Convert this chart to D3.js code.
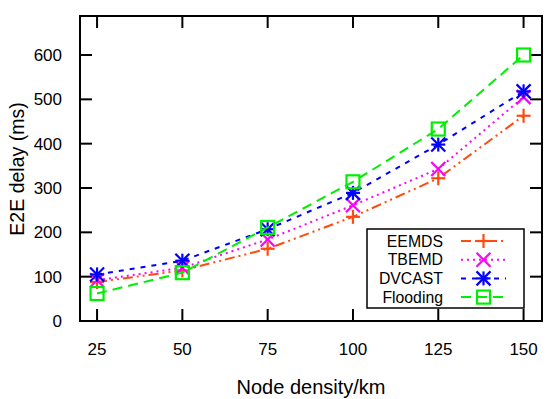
<!DOCTYPE html>
<html><head><meta charset="utf-8">
<script src="https://cdn.jsdelivr.net/npm/d3@7"></script>
<style>body{margin:0;background:#fff}svg{display:block}text{font-family:"Liberation Sans",Arial,Helvetica,sans-serif;fill:#000}</style>
</head><body><svg id="c" width="550" height="399"></svg>
<script>
const nodeDensity = [25, 50, 75, 100, 125, 150];
const eemds    = [88, 114, 163, 235, 322, 463];
const tbemd    = [92, 120, 184, 261, 343, 505];
const dvcast   = [105, 136, 207, 289, 398, 518];
const flooding = [62, 109, 211, 314, 433, 600];
const yTicks = [0, 100, 200, 300, 400, 500, 600];
const seriesNames = ["EEMDS", "TBEMD", "DVCAST", "Flooding"];

const series = [
  {name: seriesNames[0], vals: eemds, color: "#ff4a10", dash: "10,4,2,4,2,4", marker: "plus"},
  {name: seriesNames[1], vals: tbemd, color: "#ff00ff", dash: "2,4", marker: "cross"},
  {name: seriesNames[2], vals: dvcast, color: "#0000ff", dash: "5,6", marker: "star"},
  {name: seriesNames[3], vals: flooding, color: "#00ee00", dash: "10,6", marker: "square"}
];

const L = 80, R = 542, T = 16, B = 321;
const svg = d3.select("#c");
const x = d3.scaleLinear().domain([20, 155.4]).range([L, R]);
const y = d3.scaleLinear().domain([0, 688]).range([B, T]);

const tk = 12;
const g = svg.append("g");
nodeDensity.forEach(v => {
  g.append("line").attr("x1", x(v)).attr("x2", x(v)).attr("y1", B).attr("y2", B - tk).attr("stroke", "#000").attr("stroke-width", 2);
  g.append("line").attr("x1", x(v)).attr("x2", x(v)).attr("y1", T).attr("y2", T + tk).attr("stroke", "#000").attr("stroke-width", 2);
  g.append("text").attr("x", x(v)).attr("y", 355).attr("text-anchor", "middle").style("font-size", "17px").text(v);
});
yTicks.forEach(v => {
  g.append("line").attr("x1", L).attr("x2", L + tk).attr("y1", y(v)).attr("y2", y(v)).attr("stroke", "#000").attr("stroke-width", 2);
  g.append("line").attr("x1", R).attr("x2", R - tk).attr("y1", y(v)).attr("y2", y(v)).attr("stroke", "#000").attr("stroke-width", 2);
  g.append("text").attr("x", 62).attr("y", y(v) + 6).attr("text-anchor", "end").style("font-size", "17px").text(v);
});

function drawMarker(sel, type, cx, cy, color) {
  const s = 7;
  const a = sel.append("g").attr("transform", `translate(${cx},${cy})`).attr("stroke", color).attr("stroke-width", 2.2).attr("fill", "none");
  if (type === "plus") {
    a.append("line").attr("x1", -s).attr("x2", s).attr("y1", 0).attr("y2", 0);
    a.append("line").attr("x1", 0).attr("x2", 0).attr("y1", -s).attr("y2", s);
  } else if (type === "cross") {
    a.append("line").attr("x1", -s).attr("x2", s).attr("y1", -s).attr("y2", s);
    a.append("line").attr("x1", -s).attr("x2", s).attr("y1", s).attr("y2", -s);
  } else if (type === "star") {
    a.append("line").attr("x1", -s).attr("x2", s).attr("y1", 0).attr("y2", 0);
    a.append("line").attr("x1", 0).attr("x2", 0).attr("y1", -s).attr("y2", s);
    a.append("line").attr("x1", -s).attr("x2", s).attr("y1", -s).attr("y2", s);
    a.append("line").attr("x1", -s).attr("x2", s).attr("y1", s).attr("y2", -s);
  } else {
    a.append("rect").attr("x", -s + 0.5).attr("y", -s + 0.5).attr("width", 2 * s - 1).attr("height", 2 * s - 1);
  }
}

const line = d3.line().x((d, i) => x(nodeDensity[i])).y(d => y(d));
series.forEach(s => {
  svg.append("path").attr("d", line(s.vals)).attr("fill", "none").attr("stroke", s.color).attr("stroke-width", 2).attr("stroke-dasharray", s.dash);
  s.vals.forEach((v, i) => drawMarker(svg, s.marker, x(nodeDensity[i]), y(v), s.color));
});

const lg = svg.append("g");
lg.append("rect").attr("x", 367).attr("y", 229).attr("width", 157).attr("height", 79).attr("fill", "#fff").attr("stroke", "#000").attr("stroke-width", 1.5);
series.forEach((s, i) => {
  const yy = 241 + i * 18.7;
  lg.append("text").attr("x", 443).attr("y", yy + 5.5).attr("text-anchor", "end").style("font-size", "15.8px").text(s.name);
  lg.append("line").attr("x1", 461).attr("x2", 506).attr("y1", yy).attr("y2", yy).attr("stroke", s.color).attr("stroke-width", 2).attr("stroke-dasharray", s.dash);
  drawMarker(lg, s.marker, 483.5, yy, s.color);
});

svg.append("rect").attr("x", L).attr("y", T).attr("width", R - L).attr("height", B - T).attr("fill", "none").attr("stroke", "#000").attr("stroke-width", 2);

svg.append("text").attr("x", 311).attr("y", 394).attr("text-anchor", "middle").style("font-size", "20px").text("Node density/km");
svg.append("text").attr("transform", "translate(24,169) rotate(-90)").attr("text-anchor", "middle").style("font-size", "19.5px").text("E2E delay (ms)");
</script></body></html>
